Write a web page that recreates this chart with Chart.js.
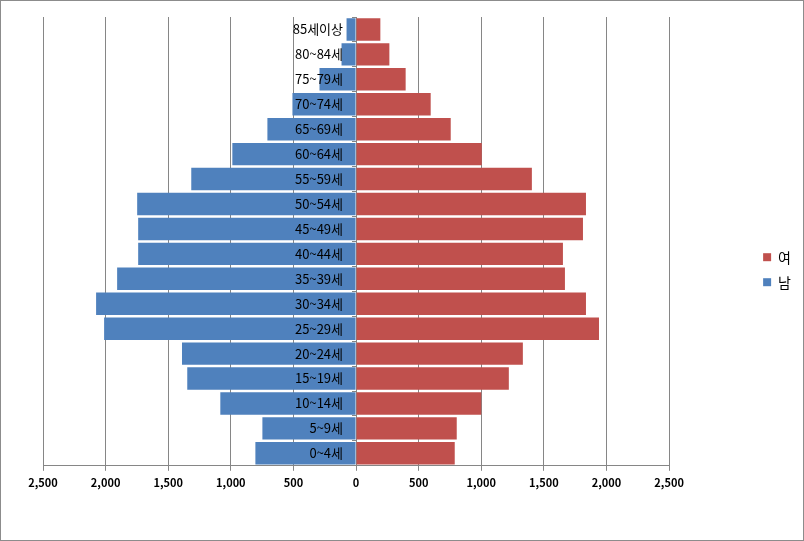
<!DOCTYPE html>
<html lang="ko">
<head>
<meta charset="utf-8">
<title>인구 피라미드</title>
<script src="https://cdn.jsdelivr.net/npm/chart.js@4.4.1/dist/chart.umd.min.js"></script>
<style>
  html, body { margin: 0; padding: 0; background: #fff; }
  #wrap { width: 804px; height: 541px; box-sizing: border-box; border: 1px solid #8c8c8c; position: relative; }
  #chart { display: block; }
</style>
</head>
<body>
<div id="wrap"><canvas id="chart"></canvas></div>
<script>
// 연령대 (위에서 아래 순서)
const ageGroups = ['85세이상', '80~84세', '75~79세', '70~74세', '65~69세', '60~64세', '55~59세', '50~54세', '45~49세',
                   '40~44세', '35~39세', '30~34세', '25~29세', '20~24세', '15~19세', '10~14세', '5~9세', '0~4세'];
const male   = [76, 116, 292, 508, 708, 988, 1316, 1748, 1740, 1740, 1908, 2076, 2012, 1390, 1348, 1084, 748, 804];
const female = [194, 266, 396, 596, 756, 1004, 1404, 1836, 1812, 1652, 1668, 1836, 1940, 1332, 1220, 1000, 804, 788];
const xTicks = [-2500, -2000, -1500, -1000, -500, 0, 500, 1000, 1500, 2000, 2500];

const GRID = '#868686';
Chart.defaults.font.family = "'Noto Sans CJK KR', 'Noto Sans', sans-serif";
Chart.defaults.font.size = 12;
Chart.defaults.color = '#000';

new Chart(document.getElementById('chart'), {
  type: 'bar',
  data: {
    labels: ageGroups,
    datasets: [
      { label: '여', data: female, backgroundColor: '#C0504D', borderWidth: 0 },
      { label: '남', data: male.map(v => -v), backgroundColor: '#4F81BD', borderWidth: 0 }
    ]
  },
  options: {
    indexAxis: 'y',
    responsive: true,
    maintainAspectRatio: false,
    animation: false,
    categoryPercentage: 0.9,
    barPercentage: 1.0,
    layout: { padding: { left: 42, top: 16, right: 2, bottom: 46 } },
    scales: {
      x: {
        stacked: true,
        min: -2500, max: 2500,
        afterBuildTicks: s => { s.ticks = xTicks.map(v => ({ value: v })); },
        ticks: {
          padding: 5, maxRotation: 0,
          font: { size: 11, weight: 'bold' },
          callback: v => Math.abs(v).toLocaleString('en-US')
        },
        grid: { color: GRID, tickLength: 5 },
        border: { color: GRID }
      },
      // 연령 라벨: 0 축 왼쪽, 막대 위에 그림
      y: {
        stacked: true,
        position: { x: -104 },
        grid: { display: false },
        border: { display: false },
        ticks: { z: 1, font: { size: 13 } }
      },
      yAxis0: {
        type: 'category',
        position: { x: 0 },
        offset: true,
        grid: { offset: true, drawOnChartArea: false, color: GRID, tickLength: 4 },
        border: { color: GRID },
        ticks: { display: false }
      },
      spacer: {
        type: 'linear',
        position: 'right',
        grid: { display: false },
        border: { display: false },
        ticks: { display: false },
        afterFit: s => { s.width = 83; }
      }
    },
    plugins: {
      tooltip: { enabled: false },
      legend: {
        position: 'right',
        title: { display: true, text: '', padding: { top: 0, bottom: 14 } },
        labels: { boxWidth: 8, boxHeight: 8, padding: 11, font: { size: 14 } }
      }
    }
  }
});
</script>
</body>
</html>
